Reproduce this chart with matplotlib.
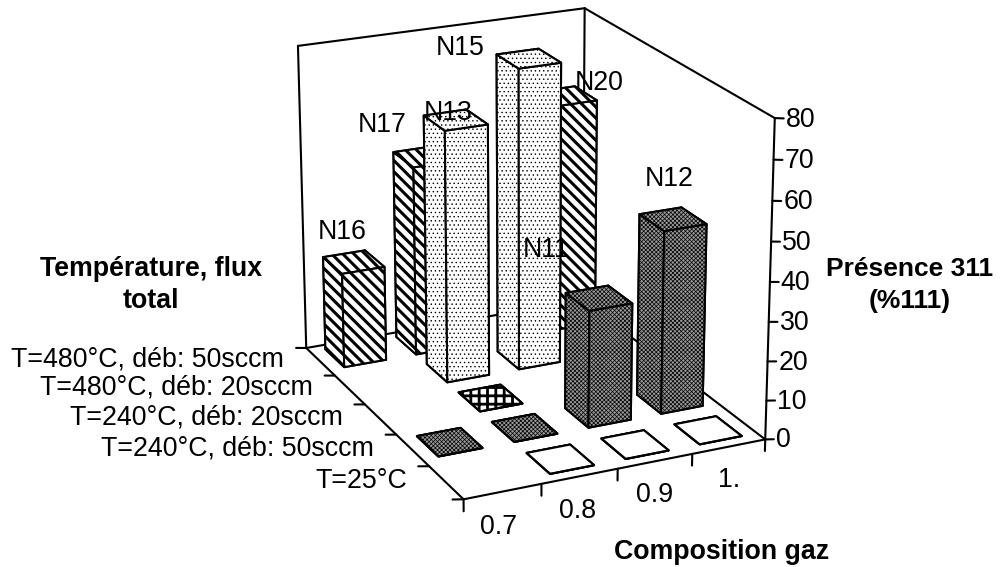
import numpy as np
import matplotlib
matplotlib.use("Agg")
import matplotlib.pyplot as plt
from mpl_toolkits.mplot3d import proj3d

plt.rcParams['font.family'] = ['Liberation Sans', 'DejaVu Sans']

compositions = ["0.7", "0.8", "0.9", "1."]
conditions = ["T=25°C", "T=240°C, déb: 50sccm", "T=240°C, déb: 20sccm",
              "T=480°C, déb: 20sccm", "T=480°C, déb: 50sccm"]
z_ticks = [0, 10, 20, 30, 40, 50, 60, 70, 80]

# une ligne par condition, nan = pas de barre
h_t25 = [np.nan, 0, 0, 0]
h_240_50 = [0, 0, 30, 47]
h_240_20 = [np.nan, 0, np.nan, np.nan]
h_480_20 = [np.nan, 65.5, 78.5, np.nan]
h_480_50 = [25, 50, np.nan, 60.5]
heights = [h_t25, h_240_50, h_240_20, h_480_20, h_480_50]

# nom des echantillons et position du texte en pixels
sample_names = ["N16", "N17", "N13", "N15", "N20", "N11", "N12"]
sample_px = [(342, 232), (382, 125), (448, 113), (460, 48), (599, 83), (546, 250), (669, 179)]

face = ["white", "#9a9a9a", "white", "white", "white"]
hatches = [None, "xxxxxxxx", "++", "....", "\\\\\\"]
hatch_lw = [0.5, 0.5, 2.0, 0.5, 2.2]

fig = plt.figure(figsize=(10, 5.67), dpi=100)
ax = fig.add_axes([0.020, 36.5 / 567, 1, 1], projection="3d", computed_zorder=False)
ax.set_proj_type("persp", focal_length=1.0)
ax.view_init(elev=20.5, azim=-115)
ax.set_box_aspect((322, 407, 330), zoom=1.0605)
ax.set_xlim(0, 4, view_margin=0)
ax.set_ylim(0, 5, view_margin=0)
ax.set_zlim(0, 80, view_margin=0)
ax.set_axis_off()
ax.apply_aspect()


def line(xs, ys, zs, lw=1.5, zo=1):
    ax.plot(xs, ys, zs, color="black", lw=lw, zorder=zo, solid_capstyle="round")


def label3d(x, y, z, s, ha):
    # texte 2D place a la position projetee du point 3D
    px, py, _ = proj3d.proj_transform(x, y, z, ax.get_proj())
    fx, fy = fig.transFigure.inverted().transform(ax.transData.transform((px, py)))
    fig.text(fx, fy, s, fontsize=19.3, ha=ha, va="center", zorder=300)


# cadre
line([0, 0], [5, 5], [0, 80])
line([4, 4], [5, 5], [0, 80])
line([0, 4], [5, 5], [80, 80])
line([4, 4], [0, 5], [80, 80])
line([0, 4], [5, 5], [0, 0])
line([4, 4], [0, 5], [0, 0])
line([0, 0], [0, 5], [0, 0], zo=2)
line([0, 4], [0, 0], [0, 0], zo=2)
line([4, 4], [0, 0], [0, 80], zo=2)

# graduations
for z in z_ticks:
    line([4, 4.12], [0, 0], [z, z - 0.4], zo=2)
    label3d(4.15, 0, z - 0.8, str(z), "left")
for i in range(5):
    line([i, i], [0, 0], [0, -3], zo=2)
for j in range(6):
    line([0, -0.14], [j, j], [0, 0.5], zo=2)

width_x = 0.58
width_y = 0.65
for j, row in enumerate(heights):
    for i, h in enumerate(row):
        if np.isnan(h):
            continue
        plt.rcParams['hatch.linewidth'] = hatch_lw[j]
        ax.bar3d(i + 0.5 - width_x / 2, j + 0.53 - width_y / 2, 0, width_x, width_y, h,
                 color=face[j], edgecolor="black", linewidth=1.5, shade=False,
                 hatch=hatches[j], zorder=100 - (i * 35 + j * 69) / 10)

for i, c in enumerate(compositions):
    label3d(i + 0.15, -0.65, -1.9, c, "center")
for j, c in enumerate(conditions):
    label3d(-0.5, j + 0.5, 2.3, c, "right")


def px_text(x, y, s, **kw):
    fig.text(x / 1000, 1 - y / 567, s, ha="center", va="center", **kw)


for name, (x, y) in zip(sample_names, sample_px):
    px_text(x, y, name, fontsize=19.3, zorder=400)

px_text(151, 285, "Température, flux\ntotal", fontsize=19.3, fontweight="bold", linespacing=1.35)
px_text(910, 285, "Présence 311\n(%111)", fontsize=19, fontweight="bold", linespacing=1.4)
px_text(722, 552, "Composition gaz", fontsize=19.3, fontweight="bold")

fig.savefig("out.png", dpi=100)
